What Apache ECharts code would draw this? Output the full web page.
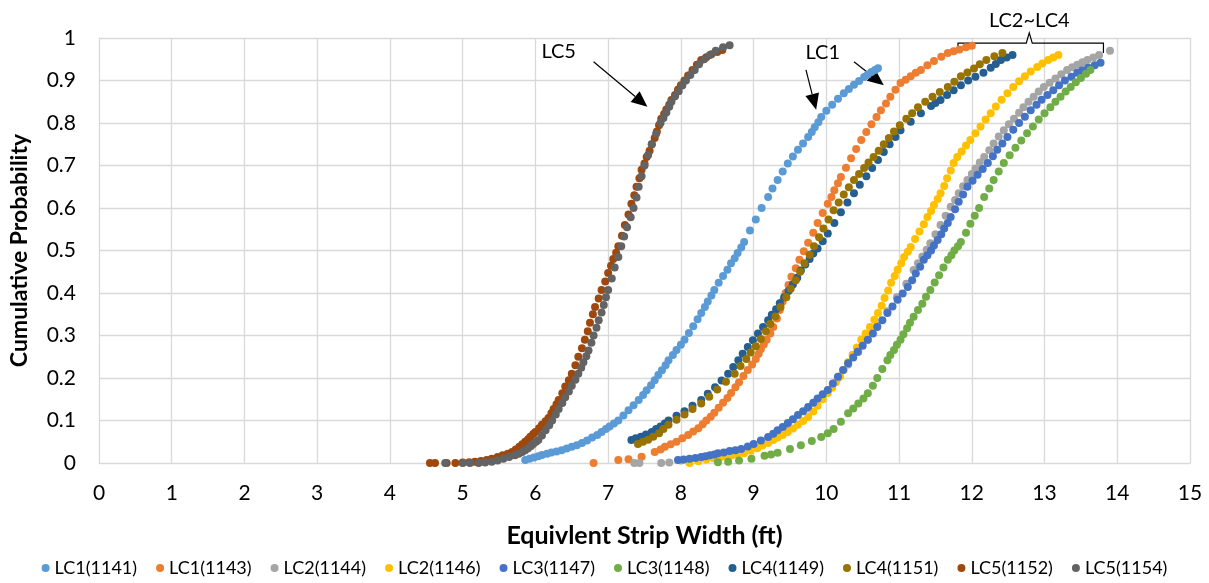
<!DOCTYPE html>
<html>
<head>
<meta charset="utf-8">
<script src="https://cdn.jsdelivr.net/npm/echarts@6/dist/echarts.min.js"></script>
<style>
  html, body { margin: 0; padding: 0; background: #fff; }
  #main { width: 1209px; height: 583px; }
</style>
</head>
<body>
<div id="main"></div>
<script>
// 各工况累积概率点 [宽度(ft), 累积概率]
const lc1_1141 = [[5.86,0.007],[5.92,0.01],[5.98,0.013],[6.04,0.016],[6.09,0.019],[6.16,0.022],[6.22,0.025],[6.29,0.027],[6.36,0.03],[6.43,0.034],[6.5,0.038],[6.57,0.042],[6.64,0.047],[6.71,0.053],[6.78,0.06],[6.85,0.066],[6.91,0.073],[6.97,0.08],[7.02,0.086],[7.08,0.093],[7.14,0.10],[7.21,0.112],[7.28,0.124],[7.35,0.136],[7.42,0.148],[7.48,0.16],[7.53,0.171],[7.59,0.183],[7.64,0.195],[7.69,0.207],[7.74,0.218],[7.79,0.23],[7.83,0.242],[7.89,0.254],[7.94,0.266],[8.0,0.278],[8.05,0.29],[8.11,0.306],[8.17,0.322],[8.23,0.338],[8.28,0.353],[8.33,0.367],[8.37,0.38],[8.42,0.394],[8.46,0.407],[8.52,0.424],[8.58,0.44],[8.64,0.455],[8.69,0.47],[8.74,0.482],[8.78,0.494],[8.83,0.507],[8.87,0.52],[8.95,0.547],[9.03,0.573],[9.11,0.6],[9.2,0.626],[9.26,0.646],[9.33,0.666],[9.4,0.686],[9.47,0.705],[9.54,0.721],[9.61,0.737],[9.68,0.752],[9.75,0.767],[9.8,0.779],[9.84,0.79],[9.89,0.802],[9.93,0.814],[10.0,0.829],[10.08,0.843],[10.16,0.857],[10.24,0.87],[10.31,0.88],[10.38,0.89],[10.45,0.899],[10.52,0.908],[10.57,0.914],[10.62,0.92],[10.67,0.925],[10.71,0.929]];
const lc1_1143 = [[6.8,0.0],[7.14,0.007],[7.28,0.009],[7.46,0.015],[7.64,0.026],[7.72,0.032],[7.78,0.038],[7.86,0.044],[7.94,0.05],[8.02,0.058],[8.1,0.066],[8.17,0.074],[8.24,0.082],[8.3,0.091],[8.35,0.1],[8.41,0.109],[8.46,0.118],[8.52,0.13],[8.58,0.142],[8.64,0.153],[8.69,0.165],[8.75,0.178],[8.8,0.19],[8.86,0.205],[8.92,0.219],[8.98,0.232],[9.03,0.245],[9.07,0.257],[9.1,0.268],[9.14,0.279],[9.18,0.29],[9.23,0.305],[9.27,0.32],[9.32,0.34],[9.36,0.36],[9.4,0.38],[9.44,0.40],[9.48,0.419],[9.52,0.438],[9.58,0.458],[9.63,0.478],[9.69,0.498],[9.75,0.518],[9.82,0.542],[9.88,0.565],[9.95,0.588],[10.02,0.61],[10.07,0.626],[10.11,0.642],[10.16,0.658],[10.2,0.673],[10.27,0.695],[10.34,0.717],[10.41,0.739],[10.48,0.76],[10.55,0.779],[10.62,0.797],[10.69,0.814],[10.75,0.83],[10.82,0.846],[10.88,0.862],[10.95,0.878],[11.02,0.894],[11.09,0.902],[11.16,0.91],[11.23,0.918],[11.3,0.925],[11.39,0.936],[11.48,0.946],[11.58,0.956],[11.67,0.965],[11.75,0.969],[11.83,0.973],[11.92,0.978],[12.0,0.982]];
const lc2_1144 = [[7.36,0.0],[7.43,0.0],[7.73,0.0],[7.84,0.001],[8.0,0.006],[8.28,0.013],[8.55,0.02],[8.83,0.031],[9.2,0.058],[9.47,0.09],[9.75,0.128],[10.02,0.17],[10.16,0.2],[10.3,0.232],[10.44,0.261],[10.57,0.29],[10.7,0.323],[10.84,0.357],[10.97,0.39],[11.1,0.422],[11.2,0.454],[11.26,0.47],[11.32,0.486],[11.38,0.502],[11.43,0.517],[11.5,0.538],[11.57,0.56],[11.64,0.582],[11.71,0.603],[11.77,0.619],[11.82,0.635],[11.88,0.651],[11.94,0.666],[12.0,0.68],[12.05,0.693],[12.11,0.707],[12.17,0.72],[12.24,0.736],[12.3,0.752],[12.37,0.768],[12.44,0.783],[12.51,0.797],[12.58,0.81],[12.65,0.824],[12.71,0.837],[12.78,0.85],[12.85,0.862],[12.92,0.874],[12.99,0.885],[13.07,0.895],[13.15,0.905],[13.23,0.915],[13.31,0.925],[13.38,0.931],[13.45,0.937],[13.52,0.943],[13.59,0.948],[13.67,0.954],[13.75,0.96],[13.9,0.97]];
const lc2_1146 = [[8.12,0.0],[8.24,0.004],[8.35,0.008],[8.45,0.011],[8.55,0.014],[8.62,0.016],[8.7,0.018],[8.78,0.02],[8.87,0.023],[8.96,0.029],[9.05,0.035],[9.12,0.041],[9.2,0.047],[9.27,0.054],[9.33,0.06],[9.4,0.066],[9.47,0.073],[9.54,0.081],[9.61,0.09],[9.68,0.099],[9.75,0.108],[9.82,0.121],[9.88,0.135],[9.95,0.15],[10.02,0.165],[10.08,0.177],[10.13,0.19],[10.19,0.204],[10.24,0.219],[10.3,0.237],[10.36,0.255],[10.42,0.272],[10.48,0.29],[10.54,0.305],[10.6,0.32],[10.66,0.337],[10.71,0.353],[10.76,0.37],[10.8,0.388],[10.85,0.406],[10.89,0.424],[10.94,0.44],[10.98,0.455],[11.03,0.47],[11.07,0.485],[11.12,0.497],[11.16,0.508],[11.22,0.527],[11.28,0.545],[11.34,0.562],[11.39,0.579],[11.44,0.593],[11.48,0.607],[11.53,0.621],[11.57,0.635],[11.62,0.652],[11.66,0.67],[11.71,0.688],[11.75,0.706],[11.8,0.72],[11.86,0.733],[11.92,0.747],[11.98,0.76],[12.05,0.776],[12.12,0.792],[12.19,0.808],[12.26,0.823],[12.33,0.839],[12.41,0.855],[12.49,0.87],[12.57,0.885],[12.65,0.898],[12.73,0.91],[12.81,0.921],[12.9,0.932],[12.97,0.94],[13.05,0.948],[13.12,0.954],[13.19,0.96]];
const lc3_1147 = [[7.96,0.007],[8.04,0.008],[8.12,0.01],[8.2,0.012],[8.28,0.014],[8.34,0.016],[8.4,0.018],[8.46,0.02],[8.51,0.023],[8.59,0.025],[8.67,0.028],[8.75,0.03],[8.83,0.033],[8.92,0.039],[9.0,0.045],[9.1,0.053],[9.2,0.061],[9.27,0.069],[9.33,0.077],[9.4,0.085],[9.47,0.094],[9.54,0.103],[9.61,0.113],[9.68,0.122],[9.75,0.132],[9.82,0.142],[9.88,0.152],[9.95,0.162],[10.02,0.172],[10.09,0.187],[10.16,0.203],[10.23,0.219],[10.3,0.235],[10.37,0.248],[10.43,0.262],[10.5,0.276],[10.57,0.29],[10.64,0.305],[10.7,0.32],[10.77,0.336],[10.84,0.353],[10.91,0.368],[10.98,0.384],[11.05,0.399],[11.12,0.414],[11.18,0.43],[11.23,0.446],[11.29,0.462],[11.34,0.478],[11.39,0.489],[11.44,0.5],[11.48,0.512],[11.53,0.525],[11.58,0.538],[11.62,0.552],[11.67,0.565],[11.71,0.579],[11.77,0.597],[11.82,0.615],[11.88,0.632],[11.94,0.65],[12.01,0.664],[12.08,0.678],[12.15,0.692],[12.22,0.706],[12.29,0.722],[12.35,0.737],[12.42,0.752],[12.49,0.767],[12.57,0.784],[12.65,0.8],[12.73,0.815],[12.81,0.83],[12.89,0.843],[12.96,0.855],[13.04,0.866],[13.12,0.877],[13.2,0.889],[13.28,0.9],[13.37,0.909],[13.45,0.918],[13.52,0.924],[13.6,0.93],[13.69,0.936],[13.77,0.942]];
const lc3_1148 = [[8.51,0.002],[8.65,0.003],[8.8,0.006],[8.97,0.01],[9.15,0.017],[9.24,0.02],[9.33,0.024],[9.5,0.033],[9.65,0.042],[9.8,0.052],[9.93,0.061],[10.02,0.07],[10.1,0.08],[10.2,0.097],[10.3,0.117],[10.37,0.128],[10.44,0.14],[10.51,0.152],[10.57,0.164],[10.64,0.182],[10.7,0.2],[10.77,0.221],[10.84,0.242],[10.88,0.254],[10.93,0.266],[10.97,0.278],[11.02,0.29],[11.06,0.303],[11.11,0.317],[11.15,0.33],[11.2,0.344],[11.26,0.36],[11.32,0.375],[11.37,0.391],[11.43,0.407],[11.49,0.425],[11.55,0.442],[11.61,0.46],[11.67,0.478],[11.72,0.489],[11.76,0.5],[11.81,0.51],[11.85,0.52],[11.92,0.542],[11.98,0.563],[12.04,0.582],[12.1,0.6],[12.17,0.626],[12.24,0.646],[12.3,0.666],[12.37,0.686],[12.44,0.706],[12.52,0.724],[12.6,0.742],[12.68,0.759],[12.76,0.776],[12.84,0.792],[12.92,0.808],[13.0,0.823],[13.08,0.837],[13.15,0.85],[13.22,0.862],[13.29,0.874],[13.36,0.885],[13.43,0.896],[13.5,0.906],[13.57,0.916],[13.63,0.925]];
const lc4_1149 = [[7.32,0.054],[7.38,0.058],[7.45,0.062],[7.52,0.067],[7.6,0.073],[7.66,0.08],[7.72,0.086],[7.78,0.093],[7.83,0.10],[7.94,0.111],[8.05,0.122],[8.16,0.135],[8.28,0.148],[8.37,0.163],[8.47,0.178],[8.56,0.194],[8.65,0.21],[8.72,0.226],[8.79,0.242],[8.85,0.257],[8.92,0.273],[8.99,0.289],[9.06,0.305],[9.13,0.32],[9.2,0.336],[9.25,0.349],[9.31,0.362],[9.36,0.376],[9.42,0.39],[9.48,0.405],[9.54,0.42],[9.6,0.436],[9.65,0.453],[9.71,0.467],[9.77,0.48],[9.82,0.493],[9.88,0.505],[9.95,0.522],[10.02,0.54],[10.11,0.565],[10.2,0.59],[10.29,0.613],[10.38,0.635],[10.46,0.655],[10.55,0.675],[10.63,0.694],[10.71,0.713],[10.79,0.732],[10.87,0.75],[10.95,0.767],[11.02,0.783],[11.16,0.803],[11.3,0.823],[11.44,0.84],[11.5,0.847],[11.57,0.854],[11.66,0.866],[11.75,0.877],[11.85,0.889],[11.95,0.9],[12.05,0.909],[12.16,0.918],[12.26,0.93],[12.33,0.939],[12.4,0.948],[12.48,0.954],[12.56,0.96]];
const lc4_1151 = [[7.41,0.045],[7.48,0.05],[7.55,0.055],[7.62,0.062],[7.7,0.07],[7.76,0.08],[7.83,0.09],[7.94,0.102],[8.05,0.114],[8.16,0.127],[8.28,0.14],[8.39,0.156],[8.5,0.173],[8.62,0.191],[8.74,0.21],[8.82,0.228],[8.9,0.245],[8.96,0.26],[9.03,0.275],[9.1,0.292],[9.17,0.31],[9.23,0.327],[9.3,0.345],[9.37,0.367],[9.45,0.39],[9.51,0.41],[9.58,0.43],[9.64,0.45],[9.7,0.47],[9.77,0.49],[9.83,0.51],[9.9,0.531],[9.96,0.552],[10.03,0.573],[10.1,0.595],[10.17,0.613],[10.24,0.632],[10.31,0.649],[10.38,0.666],[10.45,0.68],[10.52,0.694],[10.58,0.707],[10.65,0.72],[10.72,0.735],[10.79,0.75],[10.86,0.765],[10.93,0.78],[11.01,0.795],[11.1,0.81],[11.18,0.823],[11.26,0.837],[11.36,0.85],[11.46,0.862],[11.56,0.873],[11.67,0.885],[11.76,0.897],[11.85,0.91],[11.94,0.919],[12.03,0.928],[12.11,0.938],[12.2,0.948],[12.31,0.957],[12.42,0.965]];
const lc5_1152 = [[4.55,0.0],[4.62,0.0],[4.78,0.0],[4.9,0.0],[5.0,0.001],[5.09,0.002],[5.17,0.003],[5.25,0.005],[5.33,0.007],[5.4,0.01],[5.48,0.014],[5.55,0.018],[5.62,0.022],[5.68,0.026],[5.73,0.032],[5.78,0.038],[5.82,0.044],[5.86,0.05],[5.9,0.056],[5.93,0.062],[5.97,0.068],[6.0,0.073],[6.05,0.082],[6.09,0.09],[6.14,0.098],[6.18,0.106],[6.22,0.117],[6.25,0.127],[6.29,0.138],[6.32,0.148],[6.37,0.164],[6.41,0.18],[6.46,0.195],[6.5,0.21],[6.55,0.23],[6.59,0.25],[6.64,0.27],[6.68,0.29],[6.72,0.31],[6.75,0.33],[6.79,0.35],[6.82,0.367],[6.87,0.387],[6.91,0.407],[6.96,0.427],[7.0,0.447],[7.04,0.464],[7.07,0.48],[7.11,0.495],[7.14,0.51],[7.19,0.535],[7.23,0.56],[7.28,0.585],[7.32,0.61],[7.36,0.63],[7.39,0.65],[7.43,0.67],[7.46,0.69],[7.5,0.705],[7.53,0.72],[7.57,0.735],[7.6,0.75],[7.64,0.765],[7.67,0.78],[7.7,0.795],[7.73,0.81],[7.77,0.821],[7.8,0.832],[7.84,0.843],[7.87,0.854],[7.92,0.866],[7.96,0.878],[8.0,0.889],[8.05,0.9],[8.1,0.912],[8.16,0.925],[8.22,0.937],[8.28,0.948],[8.35,0.955],[8.42,0.962],[8.5,0.967],[8.57,0.972]];
const lc5_1154 = [[4.76,0.0],[5.0,0.0],[5.1,0.0],[5.22,0.0],[5.31,0.001],[5.4,0.003],[5.48,0.006],[5.56,0.01],[5.64,0.014],[5.72,0.018],[5.77,0.022],[5.82,0.026],[5.86,0.03],[5.9,0.035],[5.94,0.04],[5.97,0.045],[6.01,0.05],[6.04,0.054],[6.09,0.065],[6.14,0.077],[6.19,0.089],[6.23,0.10],[6.28,0.114],[6.32,0.127],[6.37,0.141],[6.41,0.155],[6.46,0.168],[6.5,0.182],[6.55,0.196],[6.59,0.21],[6.63,0.224],[6.66,0.237],[6.7,0.251],[6.73,0.265],[6.77,0.283],[6.8,0.3],[6.84,0.318],[6.87,0.336],[6.91,0.354],[6.94,0.372],[6.97,0.39],[7.0,0.407],[7.05,0.434],[7.09,0.46],[7.14,0.485],[7.18,0.51],[7.22,0.533],[7.26,0.555],[7.31,0.578],[7.35,0.6],[7.39,0.625],[7.42,0.65],[7.46,0.675],[7.5,0.7],[7.55,0.725],[7.6,0.75],[7.66,0.775],[7.72,0.8],[7.76,0.812],[7.8,0.825],[7.84,0.838],[7.87,0.85],[7.92,0.863],[7.97,0.875],[8.02,0.888],[8.07,0.9],[8.13,0.913],[8.19,0.925],[8.25,0.938],[8.32,0.95],[8.4,0.96],[8.48,0.97],[8.58,0.978],[8.67,0.983]];

const seriesNames = ['LC1(1141)', 'LC1(1143)', 'LC2(1144)', 'LC2(1146)', 'LC3(1147)', 'LC3(1148)', 'LC4(1149)', 'LC4(1151)', 'LC5(1152)', 'LC5(1154)'];
const seriesData = [lc1_1141, lc1_1143, lc2_1144, lc2_1146, lc3_1147, lc3_1148, lc4_1149, lc4_1151, lc5_1152, lc5_1154];
const colors = ['#5B9BD5', '#ED7D31', '#A5A5A5', '#FFC000', '#4472C4', '#70AD47', '#255E91', '#997300', '#9E480E', '#636363'];

// 标注（数据坐标）
const labelTexts = [
  { text: 'LC5', at: [6.32, 0.967] },
  { text: 'LC1', at: [9.95, 0.965] },
  { text: 'LC2~LC4', at: [12.79, 1.042] }
];
const arrows = [
  { from: [6.80, 0.944], to: [7.54, 0.838] },
  { from: [9.72, 0.925], to: [9.86, 0.831] },
  { from: [10.38, 0.944], to: [10.79, 0.889] }
];
// 括号: 左端, 右端, 中点 x, 横线 y, 端部 y, 顶部 y
const brace = { x1: 11.81, x2: 13.81, xm: 12.79, y: 0.988, yEnd: 0.965, yTop: 1.012 };

const FONT = 'Lato, "Open Sans", sans-serif';

const chart = echarts.init(document.getElementById('main'), null, { renderer: 'canvas' });

chart.setOption({
  backgroundColor: '#ffffff',
  animation: false,
  color: colors,
  textStyle: { fontFamily: FONT },
  grid: { left: 96, right: 19, top: 38, bottom: 120 },
  legend: {
    bottom: 1,
    left: 'center',
    icon: 'circle',
    itemWidth: 8,
    itemHeight: 8,
    itemGap: 19,
    textStyle: { fontSize: 18, color: '#000', fontFamily: FONT },
    data: seriesNames
  },
  xAxis: {
    type: 'value',
    min: 0,
    max: 15,
    interval: 1,
    name: 'Equivlent Strip Width (ft)',
    nameLocation: 'middle',
    nameGap: 60,
    nameTextStyle: { fontSize: 25, fontWeight: 'bold', color: '#000', fontFamily: FONT },
    axisLine: { lineStyle: { color: '#d9d9d9' } },
    axisTick: { show: false },
    axisLabel: { fontSize: 21, color: '#000', margin: 20, fontFamily: FONT },
    splitLine: { show: true, lineStyle: { color: '#d9d9d9', width: 1.3 } }
  },
  yAxis: {
    type: 'value',
    min: 0,
    max: 1,
    interval: 0.1,
    name: 'Cumulative Probability',
    nameLocation: 'middle',
    nameGap: 68,
    nameTextStyle: { fontSize: 23, fontWeight: 'bold', color: '#000', fontFamily: FONT },
    axisLine: { show: true, lineStyle: { color: '#d9d9d9' } },
    axisTick: { show: false },
    axisLabel: { fontSize: 21, color: '#000', margin: 23, fontFamily: FONT },
    splitLine: { show: true, lineStyle: { color: '#d9d9d9', width: 1.3 } }
  },
  series: seriesNames.map((name, i) => ({
    name: name,
    type: 'scatter',
    symbol: 'circle',
    symbolSize: 8,
    clip: false,
    itemStyle: { opacity: 1 },
    data: seriesData[i]
  }))
});

// 画标注
function px(p) {
  return chart.convertToPixel({ xAxisIndex: 0, yAxisIndex: 0 }, p);
}
const graphics = [];
labelTexts.forEach(t => {
  const pt = px(t.at);
  graphics.push({
    type: 'text',
    x: pt[0], y: pt[1],
    style: { text: t.text, fill: '#000', font: '20px ' + FONT, textAlign: 'center', textVerticalAlign: 'middle' }
  });
});
arrows.forEach(a => {
  const p1 = px(a.from), p2 = px(a.to);
  const dx = p2[0] - p1[0], dy = p2[1] - p1[1];
  const len = Math.sqrt(dx * dx + dy * dy);
  const ux = dx / len, uy = dy / len;
  const headL = 16, headW = 7;
  const bx = p2[0] - ux * headL, by = p2[1] - uy * headL;
  graphics.push({
    type: 'line',
    shape: { x1: p1[0], y1: p1[1], x2: bx, y2: by },
    style: { stroke: '#000', lineWidth: 1.2 }
  });
  graphics.push({
    type: 'polygon',
    shape: { points: [[p2[0], p2[1]], [bx - uy * headW, by + ux * headW], [bx + uy * headW, by - ux * headW]] },
    style: { fill: '#000' }
  });
});
const b1 = px([brace.x1, brace.yEnd]), b2 = px([brace.x1, brace.y]);
const b3 = px([brace.xm, brace.y]), b4 = px([brace.xm, brace.yTop]);
const b5 = px([brace.x2, brace.y]), b6 = px([brace.x2, brace.yEnd]);
graphics.push({
  type: 'polyline',
  shape: { points: [b1, b2, [b3[0] - 3, b3[1]], b4, [b3[0] + 3, b3[1]], b5, b6] },
  style: { stroke: '#000', lineWidth: 1.2, fill: null }
});
chart.setOption({ graphic: graphics });
</script>
</body>
</html>
